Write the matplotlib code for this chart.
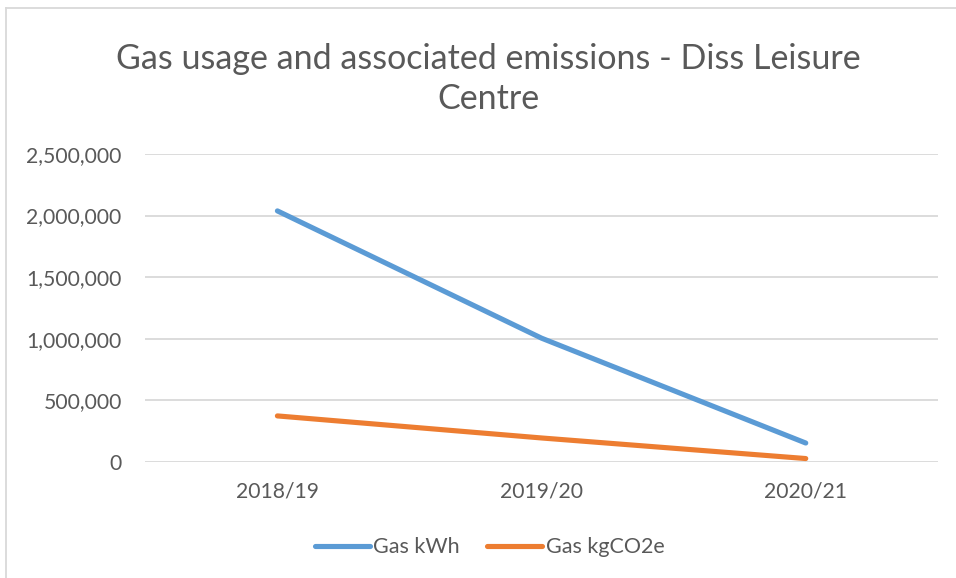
import matplotlib.pyplot as plt
from matplotlib.lines import Line2D
from matplotlib.ticker import FuncFormatter

years = ["2018/19", "2019/20", "2020/21"]
gas_kwh = [2038000, 1005000, 154000]
gas_co2 = [374000, 195000, 28000]

blue = "#5B9BD5"
orange = "#ED7D31"
grey = "#595959"

plt.rcParams['font.family'] = ['Lato', 'DejaVu Sans']

fig = plt.figure(figsize=(9.56, 5.78), dpi=100)
ax = fig.add_axes([0.152, 0.2007, 0.829, 0.5329])

x = range(len(years))
ax.plot(x, gas_kwh, color=blue, lw=3.7, solid_capstyle='round', label="Gas kWh")
ax.plot(x, gas_co2, color=orange, lw=3.7, solid_capstyle='round', label="Gas kgCO2e")

ax.set_xlim(-0.5, 2.5)
ax.set_ylim(0, 2500000)
ax.set_yticks(range(0, 2500001, 500000))
ax.yaxis.set_major_formatter(FuncFormatter(lambda v, p: f"{int(v):,}"))
ax.set_xticks(list(x))
ax.set_xticklabels(years)
ax.grid(axis='y', color="#D9D9D9", lw=1.3)
ax.set_axisbelow(True)
for s in ax.spines.values():
    s.set_visible(False)
ax.tick_params(length=0, labelsize=15.2, labelcolor=grey)
ax.tick_params(axis='y', pad=17)
ax.tick_params(axis='x', pad=14)

fig.text(0.511, 0.864, "Gas usage and associated emissions - Diss Leisure\nCentre",
         ha='center', va='center', fontsize=24.5, color=grey, linespacing=1.3)

fig.legend(loc='center', bbox_to_anchor=(0.512, 0.053), ncol=2, frameon=False,
           fontsize=15.5, labelcolor=grey, handlelength=2.55, handletextpad=0.15,
           columnspacing=1.3)

# chart border (top and left visible)
fig.add_artist(Line2D([0.006, 1.0], [0.986, 0.986], color="#D9D9D9", lw=1.3))
fig.add_artist(Line2D([0.006, 0.006], [0.0, 0.986], color="#D9D9D9", lw=1.3))

fig.savefig("out.png", dpi=100)
